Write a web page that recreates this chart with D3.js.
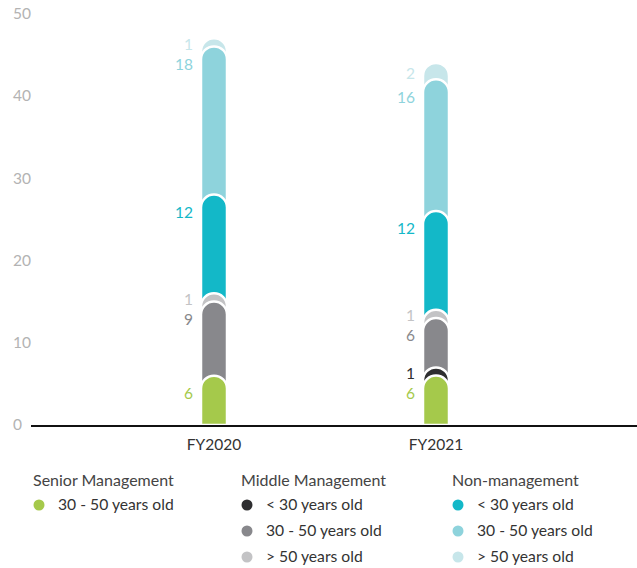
<!DOCTYPE html>
<html>
<head>
<meta charset="utf-8">
<script src="https://cdn.jsdelivr.net/npm/d3@7"></script>
<style>
  html, body { margin: 0; padding: 0; background: #fff; }
  svg { display: block; font-family: "Lato", "Open Sans", sans-serif; }
</style>
</head>
<body>
<svg id="chart" width="637" height="568"></svg>
<script>
// Headcount by category and age band, stacked bottom to top
const categories = ["FY2020", "FY2021"];
const seniorMid   = [6, 6];    // Senior Management, 30 - 50
const middleYoung = [0, 1];    // Middle Management, < 30
const middleMid   = [9, 6];    // Middle Management, 30 - 50
const middleOld   = [1, 1];    // Middle Management, > 50
const nonYoung    = [12, 12];  // Non-management, < 30
const nonMid      = [18, 16];  // Non-management, 30 - 50
const nonOld      = [1, 2];    // Non-management, > 50
const yTicks = [0, 10, 20, 30, 40, 50];

const seriesDefs = [
  { key: "seniorMid",   values: seniorMid,   color: "#a5c94b" },
  { key: "middleYoung", values: middleYoung, color: "#2e2e30" },
  { key: "middleMid",   values: middleMid,   color: "#88888c" },
  { key: "middleOld",   values: middleOld,   color: "#c3c3c5" },
  { key: "nonYoung",    values: nonYoung,    color: "#13b8c8" },
  { key: "nonMid",      values: nonMid,      color: "#8ed3dc" },
  { key: "nonOld",      values: nonOld,      color: "#c7e6ea" }
];

const legendGroups = [
  { title: "Senior Management", items: [["30 - 50 years old", "seniorMid"]] },
  { title: "Middle Management", items: [["< 30 years old", "middleYoung"], ["30 - 50 years old", "middleMid"], ["> 50 years old", "middleOld"]] },
  { title: "Non-management", items: [["< 30 years old", "nonYoung"], ["30 - 50 years old", "nonMid"], ["> 50 years old", "nonOld"]] }
];

const rows = categories.map((c, i) => {
  const r = { category: c };
  seriesDefs.forEach(s => r[s.key] = s.values[i]);
  return r;
});
const colorOf = Object.fromEntries(seriesDefs.map(s => [s.key, s.color]));

const svg = d3.select("#chart");

const y = d3.scaleLinear().domain([0, 50]).range([425, 13.5]);
const x = d3.scaleBand().domain(categories).range([103, 547]);
const barW = 26, r = barW / 2;
const numFont = "15.5px";

// y tick labels (no axis line)
const yAxis = d3.axisLeft(y).tickValues(yTicks).tickSize(0).tickPadding(0);
const gy = svg.append("g").attr("transform", "translate(13,0)").call(yAxis);
gy.select(".domain").remove();
gy.selectAll("text")
  .attr("text-anchor", "start")
  .attr("fill", "#b3b3b3")
  .style("font-size", numFont)
  .style("font-family", "Lato, sans-serif");

const stack = d3.stack().keys(seriesDefs.map(s => s.key));
const layers = stack(rows);

// Each segment is a column from the baseline to its cumulative top with a
// rounded cap; upper layers are painted first so lower caps sit over them.
function capPath(cx, yTop, yBot) {
  const x0 = cx - r, x1 = cx + r;
  return `M${x0},${yBot}L${x0},${yTop + r}A${r},${r} 0 0 1 ${x1},${yTop + r}L${x1},${yBot}Z`;
}

const barsG = svg.append("g");
layers.slice().reverse().forEach(layer => {
  barsG.selectAll(null)
    .data(layer.filter(d => d[1] - d[0] > 0))
    .join("path")
    .attr("d", d => capPath(x(d.data.category) + x.bandwidth() / 2, y(d[1]), y(0)))
    .attr("fill", colorOf[layer.key])
    .attr("stroke", "#fff")
    .attr("stroke-width", 2.5);
});

// Value labels to the left of each segment
const labelsG = svg.append("g")
  .style("font-size", numFont)
  .style("font-family", "Lato, sans-serif");
layers.forEach(layer => {
  labelsG.selectAll(null)
    .data(layer.filter(d => d[1] - d[0] > 0))
    .join("text")
    .attr("x", d => x(d.data.category) + x.bandwidth() / 2 - r - 8)
    .attr("y", d => {
      const h = y(d[0]) - y(d[1]);
      return y(d[1]) + Math.min(18, h / 2 + 2);
    })
    .attr("dy", "0.35em")
    .attr("text-anchor", "end")
    .attr("fill", colorOf[layer.key])
    .text(d => d[1] - d[0]);
});

// Baseline
svg.append("line")
  .attr("x1", 31).attr("x2", 637)
  .attr("y1", y(0) + 1).attr("y2", y(0) + 1)
  .attr("stroke", "#111").attr("stroke-width", 2);

// Category labels, centred under each column
const xAxis = d3.axisBottom(x).tickSize(0).tickPadding(0);
const gx = svg.append("g").attr("transform", `translate(0,${y(0) + 20})`).call(xAxis);
gx.select(".domain").remove();
gx.selectAll("text")
  .attr("dy", "0.35em")
  .attr("fill", "#333")
  .style("font-size", numFont)
  .style("font-family", "Lato, sans-serif");

// Legend
const legendX = [33, 241, 452];
const legend = svg.append("g").style("font-family", "Lato, sans-serif");
legendGroups.forEach((g, gi) => {
  const lg = legend.append("g").attr("transform", `translate(${legendX[gi]},0)`);
  lg.append("text")
    .attr("x", 0).attr("y", 480).attr("dy", "0.35em")
    .attr("fill", "#444").style("font-size", "16px")
    .text(g.title);
  g.items.forEach(([label, key], ii) => {
    const cy = 505 + ii * 26;
    lg.append("circle").attr("cx", 6).attr("cy", cy).attr("r", 5.5).attr("fill", colorOf[key]);
    lg.append("text")
      .attr("x", 25).attr("y", cy).attr("dy", "0.35em")
      .attr("fill", "#333").style("font-size", "15.7px")
      .text(label);
  });
});
</script>
</body>
</html>
